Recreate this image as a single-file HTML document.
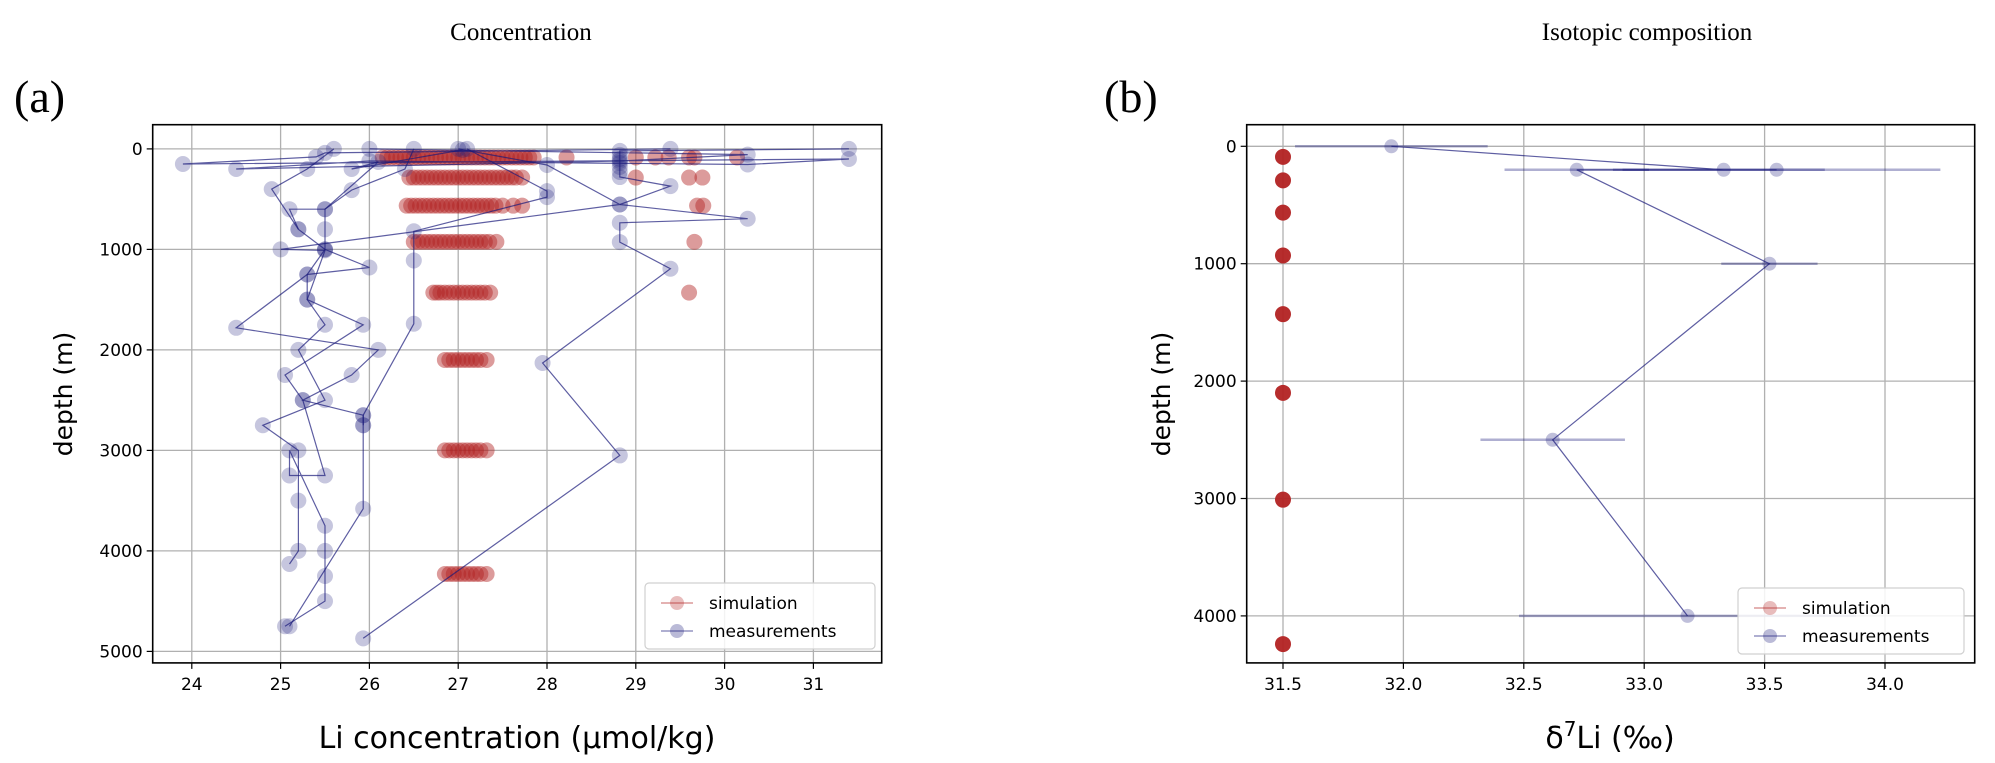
<!DOCTYPE html>
<html><head><meta charset="utf-8"><style>
html,body{margin:0;padding:0;background:#fff;}
svg{display:block;}
text{font-family:"DejaVu Sans","Liberation Sans",sans-serif;fill:#000;}
.serif{font-family:"Liberation Serif",serif;}
</style></head>
<body>
<svg id="fig" width="1995" height="763" viewBox="0 0 1995 763"></svg>
<script>
// ---------- Panel (a) data ----------
const aXTicks = [24,25,26,27,28,29,30,31];
const aYTicks = [0,1000,2000,3000,4000,5000];
const simDepthsA = [85, 285, 565, 925, 1430, 2100, 3000, 4230];
const simValsA = [
  [26.15,26.2,26.25,26.3,26.35,26.4,26.45,26.5,26.55,26.6,26.65,26.7,26.75,26.8,26.85,26.9,26.95,27.0,27.05,27.1,27.15,27.2,27.25,27.3,27.35,27.4,27.45,27.5,27.55,27.6,27.65,27.7,27.75,27.8,27.85,28.22,29.0,29.22,29.37,29.6,29.66,30.14],
  [26.45,26.5,26.55,26.6,26.65,26.7,26.75,26.8,26.85,26.9,26.95,27.0,27.05,27.1,27.15,27.2,27.25,27.3,27.35,27.4,27.45,27.5,27.55,27.6,27.65,27.72,29.0,29.6,29.75],
  [26.42,26.47,26.52,26.57,26.62,26.67,26.72,26.77,26.82,26.87,26.92,26.97,27.02,27.07,27.12,27.17,27.22,27.27,27.32,27.37,27.42,27.5,27.62,27.72,29.69,29.76],
  [26.5,26.55,26.6,26.65,26.7,26.75,26.8,26.85,26.9,26.95,27.0,27.05,27.1,27.15,27.2,27.25,27.3,27.35,27.43,29.66],
  [26.72,26.76,26.8,26.85,26.9,26.95,27.0,27.05,27.1,27.15,27.2,27.25,27.3,27.36,29.6],
  [26.85,26.9,26.95,27.0,27.05,27.1,27.15,27.2,27.25,27.32],
  [26.85,26.9,26.95,27.0,27.05,27.1,27.15,27.2,27.25,27.32],
  [26.85,26.9,26.95,27.0,27.05,27.1,27.15,27.2,27.25,27.32]
];
// measurement profiles: [value, depth] in drawing order
const measA1 = [[31.4,0],[28.82,20],[28.82,60],[28.82,100],[28.82,140],[28.82,180],[28.82,230],[28.82,280],[29.39,370],[28.82,553],[30.26,695],[28.82,735],[28.82,927],[29.39,1192],[27.95,2130],[28.82,3050],[25.93,4870]];
const measA2 = [[29.39,0],[25.5,40],[25.4,80],[23.9,150],[31.4,100],[30.26,155],[26.0,120],[24.5,200],[28.82,120],[30.26,57],[26.0,0]];
const measA3 = [[25.6,0],[25.3,200],[24.9,400],[25.2,800],[25.5,1000],[25.3,1250],[25.3,1500],[25.5,1750],[25.2,2000],[25.5,2500],[24.8,2750],[25.2,3000],[25.2,3500],[25.2,4000],[25.1,4130]];
const measA4 = [[26.5,0],[26.4,200],[25.8,410],[25.5,600],[25.5,800],[25.5,1000],[26.0,1180],[25.3,1250],[24.5,1780],[26.1,2000],[25.8,2250],[25.25,2500],[25.93,2650],[25.93,2750],[25.93,3580],[25.1,4750]];
const measA5 = [[27.0,0],[28.0,160],[28.82,553],[25.0,1000],[25.5,1010],[25.3,1500],[25.93,1750],[25.05,2250],[25.25,2500],[25.5,3250],[25.1,3250],[25.1,3000],[25.5,3750],[25.5,4000],[25.5,4250],[25.5,4500],[25.05,4750]];
const measA6 = [[27.1,0],[28.0,420],[28.0,480],[26.5,820],[26.5,1110],[26.5,1740],[25.93,2650],[25.93,2750]];
const measA7 = [[27.05,10],[25.8,200],[26.1,130],[25.5,600],[25.1,600],[25.2,800]];

// ---------- Panel (b) data ----------
const bXTicks = [31.5,32.0,32.5,33.0,33.5,34.0];
const bYTicks = [0,1000,2000,3000,4000];
const simDepthsB = [90, 290, 565, 930, 1430, 2100, 3010, 4240];
const simValsB = [31.5,31.5,31.5,31.5,31.5,31.5,31.5,31.5];
const measValsB = [31.95,33.33,33.55,32.72,33.52,32.62,33.18];
const measDepthsB = [0,200,200,200,1000,2500,4000];
const measErrB = [0.4,0.42,0.68,0.3,0.2,0.3,0.7];

const NS = "http://www.w3.org/2000/svg";
const svg = document.getElementById('fig');
function el(tag, attrs, parent){
  const e = document.createElementNS(NS, tag);
  for (const k in attrs) e.setAttribute(k, attrs[k]);
  (parent||svg).appendChild(e);
  return e;
}
function txt(s, attrs, parent){ const t = el('text', attrs, parent); t.textContent = s; return t; }
const defs = el('defs',{});

function drawPanel(p){
  const g = el('g', {});
  
  
  p.xTicks.forEach(v=>{
    const x = p.xs(v);
    const l = el('line',{x1:x,x2:x,y1:p.top,y2:p.bottom,stroke:'#b0b0b0','stroke-width':1.3},g);
    
    
    el('line',{x1:x,x2:x,y1:p.bottom,y2:p.bottom+6,stroke:'#000','stroke-width':1.2},g);
    const t = txt(p.fmt(v),{x:x,y:p.bottom+27,'font-size':17,'text-anchor':'middle'},g);
    
    
  });
  p.yTicks.forEach(v=>{
    const y = p.ys(v);
    const l = el('line',{x1:p.left,x2:p.right,y1:y,y2:y,stroke:'#b0b0b0','stroke-width':1.3},g);
    
    
    el('line',{x1:p.left-6,x2:p.left,y1:y,y2:y,stroke:'#000','stroke-width':1.2},g);
    const t = txt(String(v),{x:p.left-10,y:y+6,'font-size':17,'text-anchor':'end'},g);
    
    
  });
  const cp = el('clipPath',{id:'clip-'+p.name},defs);
  el('rect',{x:p.left,y:p.top,width:p.right-p.left,height:p.bottom-p.top},cp);
  const inner = el('g',{'clip-path':'url(#clip-'+p.name+')'},g);
  return [g, inner];
}

// ---------- Panel (a) ----------
const A = {name:'panel-a-concentration', left:152.7, right:881.7, top:124.7, bottom:662.9,
  xs:v=>191.8+(v-24)*88.8, ys:d=>148.9+d*0.1005, xTicks:aXTicks, yTicks:aYTicks, fmt:v=>String(v)};
const [gA, iA] = drawPanel(A);
simDepthsA.forEach((d,i)=>{
  simValsA[i].forEach(v=>{
    const c = el('circle',{cx:A.xs(v),cy:A.ys(d),r:8,fill:'#b22222','fill-opacity':0.45},iA);
    
    
  });
});
[measA1,measA2,measA3,measA4,measA5,measA6,measA7].forEach(prof=>{
  const pts = prof.map(p=>A.xs(p[0]).toFixed(1)+','+A.ys(p[1]).toFixed(1)).join(' ');
  const pl = el('polyline',{points:pts,fill:'none',stroke:'#1a1a7a','stroke-opacity':0.7,'stroke-width':1.2},iA);
  
  
  prof.forEach(p=>{
    const c = el('circle',{cx:A.xs(p[0]),cy:A.ys(p[1]),r:8,fill:'#1a1a7a','fill-opacity':0.25},iA);
    
    
  });
});
el('rect',{x:A.left,y:A.top,width:A.right-A.left,height:A.bottom-A.top,fill:'none',stroke:'#000','stroke-width':1.6},gA);

// ---------- Panel (b) ----------
const B = {name:'panel-b-isotopic', left:1246.7, right:1974.7, top:124.7, bottom:662.9,
  xs:v=>1283+(v-31.5)*240.8, ys:d=>146.3+d*0.1174, xTicks:bXTicks, yTicks:bYTicks, fmt:v=>v.toFixed(1)};
const [gB, iB] = drawPanel(B);
measValsB.forEach((v,i)=>{
  const y = B.ys(measDepthsB[i]);
  const e = el('line',{x1:B.xs(v-measErrB[i]),x2:B.xs(v+measErrB[i]),y1:y,y2:y,stroke:'#1a1a7a','stroke-opacity':0.35,'stroke-width':2.5},iB);
  
  
});
{
  const pts = measValsB.map((v,i)=>B.xs(v).toFixed(1)+','+B.ys(measDepthsB[i]).toFixed(1)).join(' ');
  const pl = el('polyline',{points:pts,fill:'none',stroke:'#1a1a7a','stroke-opacity':0.7,'stroke-width':1.2},iB);
  
  
}
measValsB.forEach((v,i)=>{
  const c = el('circle',{cx:B.xs(v),cy:B.ys(measDepthsB[i]),r:7,fill:'#1a1a7a','fill-opacity':0.28},iB);
  
  
});
simDepthsB.forEach((d,i)=>{
  const c = el('circle',{cx:B.xs(simValsB[i]),cy:B.ys(d),r:8,fill:'#b22222','fill-opacity':0.95},iB);
  
  
});
el('rect',{x:B.left,y:B.top,width:B.right-B.left,height:B.bottom-B.top,fill:'none',stroke:'#000','stroke-width':1.6},gB);

// ---------- Legends ----------
function legend(x,y,w,h,name){
  const g = el('g',{});
  
  
  el('rect',{x:x,y:y,width:w,height:h,rx:4,fill:'#fff','fill-opacity':0.85,stroke:'#d0d0d0','stroke-width':1.2},g);
  const rows = [['simulation','#b22222'],['measurements','#1a1a7a']];
  rows.forEach((r,i)=>{
    const cy = y+20+i*28;
    el('line',{x1:x+16,x2:x+48,y1:cy,y2:cy,stroke:r[1],'stroke-opacity':0.35,'stroke-width':2},g);
    el('circle',{cx:x+32,cy:cy,r:7,fill:r[1],'fill-opacity':0.3},g);
    const t = txt(r[0],{x:x+64,y:cy+6,'font-size':17},g);
    
    
  });
}
legend(645,583,230,66,'legend-a');
legend(1738,588,226,66,'legend-b');

// ---------- Labels ----------
function lab(s,attrs,name){ const t = txt(s,attrs);   return t; }
lab('Concentration',{x:521,y:40,'font-size':25,'text-anchor':'middle',class:'serif'},'title-a');
lab('Isotopic composition',{x:1647,y:40,'font-size':25,'text-anchor':'middle',class:'serif'},'title-b');
lab('(a)',{x:14,y:112,'font-size':46,class:'serif'},'panel-label-a');
lab('(b)',{x:1104,y:112,'font-size':46,class:'serif'},'panel-label-b');
lab('depth (m)',{x:0,y:0,'font-size':25,'text-anchor':'middle',transform:'translate(72,394) rotate(-90)'},'y-axis-title-a');
lab('depth (m)',{x:0,y:0,'font-size':25,'text-anchor':'middle',transform:'translate(1170,394) rotate(-90)'},'y-axis-title-b');
lab('Li concentration (μmol/kg)',{x:517,y:748,'font-size':30,'text-anchor':'middle'},'x-axis-title-a');
{
  const t = lab('',{x:1610,y:748,'font-size':30,'text-anchor':'middle'},'x-axis-title-b');
  t.innerHTML = 'δ<tspan dy="-12" font-size="20">7</tspan><tspan dy="12">Li (‰)</tspan>';
}
</script>
</body></html>
